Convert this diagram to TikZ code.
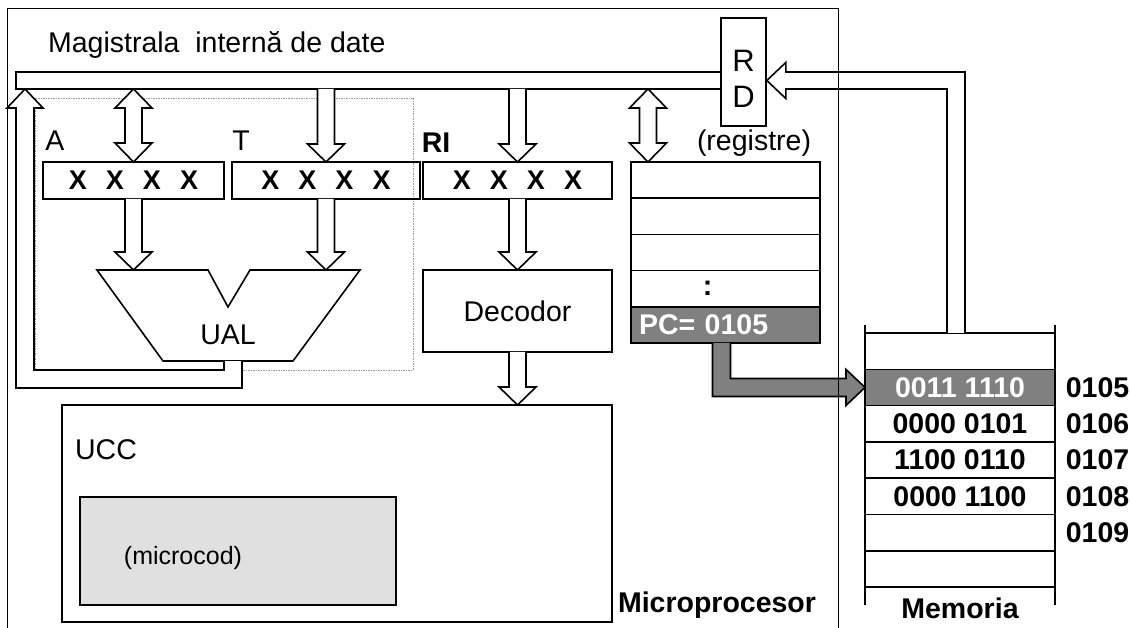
\documentclass[tikz,border=0pt]{standalone}
\usepackage{fontspec}
\setmainfont{Liberation Sans}
\usetikzlibrary{calc, positioning}
\definecolor{cgray}{HTML}{808080}
\definecolor{clight}{HTML}{E0E0E0}
\definecolor{cdash}{HTML}{9A9A9A}
\newcommand{\xbits}{X\hspace{19pt}X\hspace{19pt}X\hspace{19pt}X}
\tikzset{
  every picture/.style={line width=1.6pt},
  txt/.style={font=\fontsize{28.5}{33}\selectfont},
  btxt/.style={font=\fontsize{28.5}{33}\selectfont\bfseries},
  reg/.style={draw, minimum width=#1, minimum height=37pt, inner sep=0pt, outer sep=0pt, font=\fontsize{27}{32}\selectfont\bfseries},
  reg/.default=189pt,
  cell/.style={draw, minimum width=189pt, minimum height=36.2pt, inner sep=0pt, outer sep=0pt, font=\fontsize{28.5}{33}\selectfont\bfseries},
  frame/.style={line width=0.8pt},
  dashbox/.style={draw=cdash, line width=0.6pt, dash pattern=on 1.5pt off 1pt},
  % hollow block arrows, drawn from start down to target
  fatdown/.style={fill=white, to path={let \p1=(\tikztostart), \p2=(\tikztotarget) in
    (\x1-8.5pt,\y1) -- (\x1-8.5pt,\y2+18pt) -- (\x1-18.5pt,\y2+18pt) -- (\x1,\y2)
    -- (\x1+18.5pt,\y2+18pt) -- (\x1+8.5pt,\y2+18pt) -- (\x1+8.5pt,\y1)}},
  fatboth/.style={fill=white, to path={let \p1=(\tikztostart), \p2=(\tikztotarget) in
    (\x1,\y1) -- (\x1+18.5pt,\y1-19pt) -- (\x1+8.5pt,\y1-19pt) -- (\x1+8.5pt,\y2+19pt)
    -- (\x1+18.5pt,\y2+19pt) -- (\x1,\y2) -- (\x1-18.5pt,\y2+19pt) -- (\x1-8.5pt,\y2+19pt)
    -- (\x1-8.5pt,\y1-19pt) -- (\x1-18.5pt,\y1-19pt) -- cycle}},
}

\begin{document}
\begin{tikzpicture}[x=1pt, y=-1pt]
  \useasboundingbox (0,0) rectangle (1130,628);
  % ALU group (dotted outline)
  \draw[dashbox] (35,98) rectangle (413,370);
  % internal data bus and RD
  \node[txt, anchor=west] (bustitle) at (44,45) {Magistrala\ \ internă de date};
  \node[draw, anchor=north west, minimum width=705pt, minimum height=17pt, inner sep=0pt, outer sep=0pt] (bus) at (16,72) {};
  \node[draw, minimum width=45pt, minimum height=108pt, inner sep=0pt] (rd) at (743.5,72) {};
  \node[font=\fontsize{31}{36}\selectfont, align=center] (rdtext) at (743.5,79) {R\\D};
  % A, T, RI
  \node[reg=181pt] (regA) at (133.5,180.5) {\xbits};
  \node[reg=188pt] (regT) at (326,180.5) {\xbits};
  \node[reg] (ri) at (517.5,180.5) {\xbits};
  \node[txt] (labA) at (55,141) {A};
  \node[txt] (labT) at (241,141) {T};
  \node[btxt] (labRI) at (436,143) {RI};
  \node[txt] (labreg) at (754,143) {(registre)};
  % register file
  \foreach \i in {1,2,3} \node[cell] (r\i) at (725.5,{180.1+(\i-1)*36.2}) {};
  \node[cell] (r4) at (725.5,288.7) {:\hspace*{36pt}};
  \node[cell, fill=cgray, text=white, align=left, text width=173pt, inner xsep=8pt] (pc) at (725.5,324.9) {PC= 0105};
  % UAL
  \coordinate (u1) at (97,270);
  \coordinate (u2) at (208,270);
  \coordinate (u3) at (228,307);
  \coordinate (u4) at (250,270);
  \coordinate (u5) at (360,270);
  \coordinate (u6) at (293,361);
  \coordinate (u7) at (163,361);
  \draw (u1) -- (u2) -- (u3) -- (u4) -- (u5) -- (u6) -- (u7) -- cycle;
  \node[txt] (ual) at (228,335) {UAL};
  \coordinate (ualout) at (233,361);
  % decoder and control unit
  \node[draw, txt, minimum width=189pt, minimum height=82pt, outer sep=0pt] (dec) at (517.5,311) {Decodor};
  \node[draw, minimum width=550pt, minimum height=217pt, outer sep=0pt] (ucc) at (337,513.5) {};
  \node[txt, anchor=west] (ucctext) at (71,450) {UCC};
  \node[draw, fill=clight, minimum width=316pt, minimum height=108pt, outer sep=0pt] (mc) at (238,551) {};
  \node[font=\fontsize{25}{29}\selectfont] (mctext) at (183,558) {(microcod)};
  \node[btxt] (mp) at (717,605) {Microprocesor};
  % memory
  \foreach \i/\v in {1/{},3/{0000 0101},4/{1100 0110},5/{0000 1100},6/{},7/{}}
    \node[cell, minimum width=190pt, minimum height=36.3pt] (m\i) at (960,{351.15+(\i-1)*36.3}) {\v};
  \node[cell, minimum width=190pt, minimum height=36.3pt, fill=cgray, text=white] (m2) at (960,387.45) {0011 1110};
  \draw ([yshift=8pt]m1.north west) -- ([yshift=-18pt]m7.south west);
  \draw ([yshift=8pt]m1.north east) -- ([yshift=-18pt]m7.south east);
  \foreach \i/\a in {2/0105,3/0106,4/0107,5/0108,6/0109}
    \node[btxt, anchor=west, inner xsep=10pt] (adr\i) at (m\i.east) {\a};
  \node[btxt] (memlabel) at (960,608) {Memoria};
  % block arrows
  \draw[fatboth] (bus.south -| regA.north) to (regA.north);
  \draw[fatdown] (bus.south -| regT.north) to (regT.north);
  \draw[fatdown] (bus.south -| ri.north) to (ri.north);
  \coordinate (rtap) at ([xshift=17pt]r1.north west);
  \draw[fatboth] (bus.south -| rtap) to (rtap);
  \draw[fatdown] (regA.south) to (regA.south |- u1);
  \draw[fatdown] (regT.south) to (regT.south |- u1);
  \draw[fatdown] (ri.south) to (dec.north);
  \draw[fatdown] (dec.south) to (ucc.north);
  % UAL result back to the bus
  \draw[fill=white] let \p1=(ualout), \p2=([xshift=9pt]bus.south west) in
    (\x1+9pt,\y1) -- (\x1+9pt,\y1-27pt) -- (\x2-9pt,\y1-27pt) -- (\x2-9pt,\y2-19pt) -- (\x2-18pt,\y2-19pt)
    -- (\p2) -- (\x2+18pt,\y2-19pt) -- (\x2+9pt,\y2-19pt) -- (\x2+9pt,\y1-9pt) -- (\x1-9pt,\y1-9pt) -- (\x1-9pt,\y1);
  % memory to RD
  \coordinate (memtap) at ([xshift=-4pt]m1.north);
  \draw[fill=white] let \p1=(memtap), \p2=(rd.east |- bus.east) in
    (\x1-9pt,\y1) -- (\x1-9pt,\y2-8.5pt) -- (\x2+19pt,\y2-8.5pt) -- (\x2+19pt,\y2-18pt) -- (\p2)
    -- (\x2+19pt,\y2+18pt) -- (\x2+19pt,\y2+8.5pt) -- (\x1+9pt,\y2+8.5pt) -- (\x1+9pt,\y1);
  % PC addresses memory
  \coordinate (pctap) at ([xshift=-4pt]pc.south);
  \draw[fill=cgray] let \p1=(pctap), \p2=(m2.west) in
    (\x1-9pt,\y1) -- (\x1-9pt,\y2-9pt) -- (\x2-19pt,\y2-9pt) -- (\x2-19pt,\y2-18pt) -- (\p2)
    -- (\x2-19pt,\y2+18pt) -- (\x2-19pt,\y2+9pt) -- (\x1+9pt,\y2+9pt) -- (\x1+9pt,\y1);
  % microprocessor outline
  \draw[frame] (7,628) -- (7,8) -- (838,8) -- (838,628);
\end{tikzpicture}
\end{document}
